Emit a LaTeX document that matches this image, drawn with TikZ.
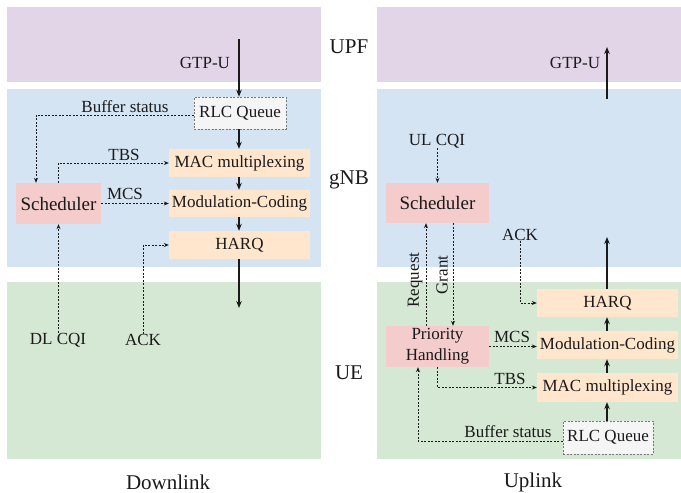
\documentclass[tikz,border=0pt]{standalone}
\usepackage{fontspec}
\setmainfont{Liberation Serif}
\usetikzlibrary{arrows.meta}
\definecolor{upfband}{HTML}{E1D5E7}
\definecolor{gnbband}{HTML}{D5E4F3}
\definecolor{ueband}{HTML}{D5E8D4}
\definecolor{procbox}{HTML}{FFE6CC}
\definecolor{schedbox}{HTML}{F4CCCC}
\definecolor{queuebox}{HTML}{F5F5F5}
\definecolor{queueedge}{HTML}{777777}
\definecolor{ink}{HTML}{1A1A1A}
\tikzset{
  band/.style={fill=#1, draw=none},
  txt/.style={inner sep=0pt, text=ink, font={\rmfamily\fontsize{17}{20}\selectfont}},
  region/.style={inner sep=0pt, text=ink, font={\rmfamily\fontsize{21}{24}\selectfont}},
  procnode/.style={fill=procbox, draw=none, inner sep=0pt, text=ink, minimum width=141pt, font={\rmfamily\fontsize{17}{20}\selectfont}},
  schednode/.style={fill=schedbox, draw=none, inner sep=0pt, text=ink, minimum width=#1, align=center, font={\rmfamily\fontsize{19}{20}\selectfont}},
  queuenode/.style={fill=queuebox, draw=queueedge, dash pattern=on 2pt off 1.5pt, line width=0.6pt, inner sep=0pt, text=ink, font={\rmfamily\fontsize{17}{20}\selectfont}},
  datapath/.style={draw=ink, line width=1.3pt, -{Stealth[length=7pt,width=5.5pt]}},
  ctrlpath/.style={draw=ink, line width=0.75pt, dash pattern=on 2pt off 1.5pt, -{Stealth[length=5pt,width=4pt]}},
}
\begin{document}
\begin{tikzpicture}[x=1pt,y=-1pt]
\useasboundingbox (0,0) rectangle (681,493);

% horizontal layer bands, downlink on the left, uplink on the right
\fill[band=upfband] (7,7) rectangle (321,82);
\fill[band=gnbband] (7,89) rectangle (321,267);
\fill[band=ueband]  (7,282) rectangle (321,459);
\fill[band=upfband] (377,7) rectangle (681,82);
\fill[band=gnbband] (377,89) rectangle (681,267);
\fill[band=ueband]  (377,282) rectangle (681,459);

% layer names and panel titles
\node[region] (lupf) at (349,47) {UPF};
\node[region] (lgnb) at (349,180) {gNB};
\node[region] (lue)  at (349,373) {UE};
\node[region] (ldl)  at (168,482) {Downlink};
\node[region] (lul)  at (533,482) {Uplink};

% ---------------- Downlink ----------------
\node[queuenode, minimum width=92pt, minimum height=32pt] (rlcD) at (240,113) {RLC Queue};
\node[procnode, minimum height=28pt] (macD)  at (239.5,163) {MAC multiplexing};
\node[procnode, minimum height=27pt] (modD)  at (239.5,203.5) {Modulation-Coding};
\node[procnode, minimum height=28pt] (harqD) at (239.5,245) {HARQ};
\node[schednode=85pt, minimum height=41pt] (schedD) at (58.5,203.5) {Scheduler};

\coordinate (gtpDin) at (239,39);
\coordinate (airD) at (239,308);
\node[txt] (gtpD) at (205,63) {GTP-U};
\draw[datapath] (gtpDin) -- (gtpDin |- rlcD.north);
\draw[datapath] (rlcD.south -| gtpDin) -- (gtpDin |- macD.north);
\draw[datapath] (macD.south -| gtpDin) -- (gtpDin |- modD.north);
\draw[datapath] (modD.south -| gtpDin) -- (gtpDin |- harqD.north);
\draw[datapath] (harqD.south -| gtpDin) -- (airD);

\coordinate (bufD) at (36,115);
\node[txt] (bufDl) at (125,107) {Buffer status};
\draw[ctrlpath] (rlcD.west |- bufD) -- (bufD) -- (bufD |- schedD.north);

\node[txt] (tbsDl) at (124,155) {TBS};
\draw[ctrlpath] (schedD.north) |- (macD.west);

\node[txt] (mcsDl) at (125,194) {MCS};
\draw[ctrlpath] (schedD.east) -- (modD.west);

\node[txt] (cqiD) at (58,340) {DL CQI};
\draw[ctrlpath] (cqiD.north -| schedD.south) -- (schedD.south);

\node[txt] (ackD) at (143,340) {ACK};
\draw[ctrlpath] (ackD.north) |- (harqD.west);

% ---------------- Uplink ----------------
\node[schednode=103pt, minimum height=40pt] (schedU) at (437.5,203) {Scheduler};
\node[schednode=103pt, minimum height=41pt, font={\rmfamily\fontsize{17}{21}\selectfont}] (prioU) at (437.5,346.5) {Priority\\Handling};
\node[procnode, minimum height=28pt] (harqU) at (607.5,303) {HARQ};
\node[procnode, minimum height=28pt] (modU)  at (607.5,345) {Modulation-Coding};
\node[procnode, minimum height=29pt] (macU)  at (607.5,387.5) {MAC multiplexing};
\node[queuenode, minimum width=90pt, minimum height=33pt] (rlcU) at (608,437.5) {RLC Queue};

\coordinate (gtpUout) at (607,47);
\coordinate (gtpUin) at (607,99);
\coordinate (airU) at (607,237);
\node[txt] (gtpU) at (575,63) {GTP-U};
\draw[datapath] (gtpUin) -- (gtpUout);
\draw[datapath] (harqU.north -| airU) -- (airU);
\draw[datapath] (modU.north -| airU) -- (airU |- harqU.south);
\draw[datapath] (macU.north -| airU) -- (airU |- modU.south);
\draw[datapath] (rlcU.north -| airU) -- (airU |- macU.south);

\node[txt] (cqiU) at (437,141) {UL CQI};
\draw[ctrlpath] (cqiU.south -| schedU.north) -- (schedU.north);

\draw[ctrlpath] ([xshift=-11.5pt]prioU.north) -- ([xshift=-11.5pt]schedU.south);
\node[txt, rotate=90] (reqU) at (415,280) {Request};
\draw[ctrlpath] ([xshift=15.5pt]schedU.south) -- ([xshift=15.5pt]prioU.north);
\node[txt, rotate=90] (grantU) at (442,275) {Grant};

\node[txt] (ackU) at (520,235) {ACK};
\draw[ctrlpath] (ackU.south) |- (harqU.west);

\node[txt] (mcsUl) at (512,337) {MCS};
\draw[ctrlpath] (prioU.east) -- (prioU.east -| modU.west);

\node[txt] (tbsUl) at (510,379) {TBS};
\draw[ctrlpath] (prioU.south) |- (macU.west);

\coordinate (bufU) at (418,441);
\node[txt] (bufUl) at (508,432) {Buffer status};
\draw[ctrlpath] (rlcU.west |- bufU) -- (bufU) -- (bufU |- prioU.south);
\end{tikzpicture}
\end{document}
